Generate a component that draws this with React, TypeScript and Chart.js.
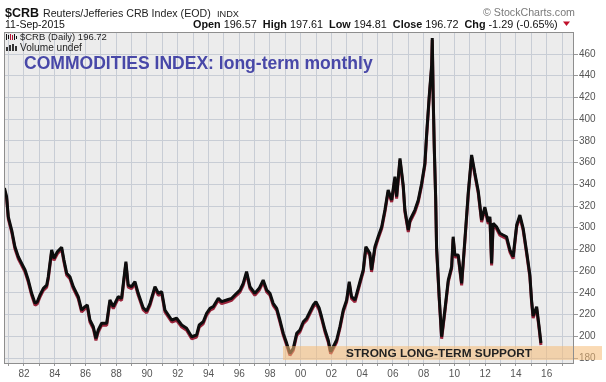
import React, { useEffect, useRef } from 'react';
import { Chart, registerables } from 'chart.js';

Chart.register(...registerables);

// ---- data ----
const YEARS = [
  1980.73, 1980.87, 1980.98, 1981.2, 1981.41, 1981.63, 1981.85, 1982.07, 1982.28, 1982.5,
  1982.72, 1982.87, 1983.04, 1983.26, 1983.48, 1983.58, 1983.8, 1983.95, 1984.17, 1984.45,
  1984.6, 1984.78, 1984.99, 1985.21, 1985.53, 1985.75, 1985.97, 1986.12, 1986.29, 1986.51,
  1986.68, 1986.83, 1987.05, 1987.38, 1987.59, 1987.81, 1988.13, 1988.35, 1988.63, 1988.78,
  1989.0, 1989.22, 1989.43, 1989.76, 1989.98, 1990.2, 1990.52, 1990.74, 1990.96, 1991.17,
  1991.39, 1991.61, 1991.93, 1992.26, 1992.58, 1992.91, 1993.23, 1993.4, 1993.66, 1993.88,
  1994.1, 1994.31, 1994.64, 1994.86, 1995.18, 1995.51, 1995.83, 1996.05, 1996.26, 1996.48,
  1996.7, 1997.02, 1997.3, 1997.56, 1997.79, 1998.0, 1998.21, 1998.44, 1998.65, 1998.87,
  1999.09, 1999.3, 1999.52, 1999.74, 1999.95, 2000.17, 2000.39, 2000.6, 2000.82, 2000.99,
  2001.21, 2001.36, 2001.58, 2001.79, 2001.95, 2002.12, 2002.34, 2002.55, 2002.77, 2002.99,
  2003.16, 2003.31, 2003.53, 2003.85, 2004.07, 2004.24, 2004.5, 2004.61, 2004.83, 2005.04,
  2005.27, 2005.48, 2005.69, 2005.92, 2006.13, 2006.24, 2006.46, 2006.67, 2006.78, 2007.0,
  2007.11, 2007.43, 2007.65, 2007.87, 2008.08, 2008.19, 2008.36, 2008.52, 2008.56, 2008.62,
  2008.69, 2008.78, 2008.84, 2009.01, 2009.17, 2009.38, 2009.6, 2009.82, 2009.92, 2010.03,
  2010.25, 2010.47, 2010.68, 2010.9, 2011.12, 2011.33, 2011.55, 2011.77, 2011.98, 2012.2,
  2012.31, 2012.42, 2012.52, 2012.74, 2012.96, 2013.17, 2013.39, 2013.61, 2013.82, 2014.05,
  2014.26, 2014.47, 2014.7, 2014.91, 2015.02, 2015.12, 2015.35, 2015.51, 2015.63,
];
const CRB_VALUES = [
  336.6, 328.6, 310.1, 297.9, 282.5, 273.3, 267.2, 261.1, 251.8, 239.6,
  230.4, 231.9, 238.0, 244.2, 247.2, 254.9, 279.5, 271.8, 277.9, 282.0,
  270.3, 258.0, 254.9, 245.7, 236.5, 224.2, 227.3, 228.8, 215.0, 208.8,
  198.1, 205.8, 212.0, 212.0, 233.4, 227.3, 236.5, 235.0, 268.7, 247.2,
  245.7, 250.3, 239.6, 226.1, 223.3, 230.4, 245.7, 239.6, 241.1, 224.2,
  219.6, 215.0, 216.6, 210.4, 207.4, 199.6, 201.2, 210.4, 213.4, 221.2,
  225.8, 227.3, 235.0, 231.9, 233.4, 235.0, 239.6, 242.6, 248.8, 259.5,
  245.7, 239.6, 244.2, 251.8, 242.6, 239.6, 230.4, 225.8, 215.0, 202.7,
  193.5, 184.3, 188.9, 202.7, 205.8, 213.4, 216.6, 222.6, 228.8, 231.9,
  225.8, 218.0, 205.8, 196.6, 185.8, 190.4, 196.6, 208.8, 224.2, 233.4,
  250.3, 236.5, 233.4, 250.0, 261.1, 282.5, 276.4, 261.1, 282.5, 291.7,
  300.9, 316.3, 334.7, 325.5, 347.0, 328.6, 363.9, 339.3, 316.3, 297.9,
  307.1, 316.3, 325.5, 340.9, 359.3, 385.4, 420.7, 449.9, 474.7, 420.7,
  374.6, 328.6, 282.5, 236.5, 199.6, 224.2, 251.8, 264.1, 291.7, 274.9,
  274.9, 248.8, 288.7, 332.0, 367.0, 350.4, 333.8, 307.1, 319.1, 305.3,
  310.1, 267.2, 304.1, 300.9, 294.9, 293.3, 291.7, 279.5, 273.3, 302.5,
  311.7, 299.7, 277.6, 256.4, 233.4, 218.7, 227.3, 208.8, 193.8,
];

const X_TICK_YEARS = [
  1981, 1982, 1983, 1984, 1985, 1986, 1987, 1988, 1989, 1990, 1991, 1992, 1993,
  1994, 1995, 1996, 1997, 1998, 1999, 2000, 2001, 2002, 2003, 2004, 2005, 2006,
  2007, 2008, 2009, 2010, 2011, 2012, 2013, 2014, 2015, 2016, 2017,
];
const Y_TICKS = [180, 200, 220, 240, 260, 280, 300, 320, 340, 360, 380, 400, 420, 440, 460];
const X_MIN = 1980.7;
const X_MAX = 2017.78;
const Y_MIN = 175.4;
const Y_MAX = 480.3;

const SUPPORT_RANGE = [178.2, 191.0]; // value band of the support zone
const SUPPORT_START_YEAR = 1998.85;

const SYMBOL = '$CRB';
const INDEX_NAME = 'Reuters/Jefferies CRB Index (EOD)';
const EXCHANGE = 'INDX';
const DATE_TEXT = '11-Sep-2015';
const OHLC_LABELS = ['Open', 'High', 'Low', 'Close', 'Chg'];
const OHLC_VALUES = ['196.57', '197.61', '194.81', '196.72', '-1.29 (-0.65%)'];
const COPYRIGHT = '\u00A9 StockCharts.com';
const LEGEND_LINES = ['$CRB (Daily) 196.72', 'Volume undef'];
const TITLE = 'COMMODITIES INDEX: long-term monthly';
const SUPPORT_LABEL = 'STRONG LONG-TERM SUPPORT';

const FONT = '"Liberation Sans", Arial, Helvetica, sans-serif';

function fitSize(ctx: CanvasRenderingContext2D, text: string, weight: string, target: number) {
  ctx.font = `${weight} 20px ${FONT}`;
  const w = ctx.measureText(text).width;
  return (20 * target) / w;
}

function drawFit(
  ctx: CanvasRenderingContext2D,
  text: string,
  x: number,
  y: number,
  target: number,
  weight: string,
  color: string
) {
  const size = fitSize(ctx, text, weight, target);
  ctx.font = `${weight} ${size}px ${FONT}`;
  ctx.fillStyle = color;
  ctx.textBaseline = 'alphabetic';
  ctx.textAlign = 'left';
  ctx.fillText(text, x, y);
}

const decorPlugin = {
  id: 'decor',
  beforeDraw(chart: any) {
    const { ctx, chartArea: a } = chart;
    ctx.save();
    ctx.fillStyle = '#ffffff';
    ctx.fillRect(0, 0, chart.width, chart.height);
    ctx.fillStyle = '#ececec';
    ctx.fillRect(a.left, a.top, a.right - a.left, a.bottom - a.top);
    ctx.restore();
  },
  beforeDatasetDraw(chart: any) {
    const ctx = chart.ctx;
    ctx.save();
    ctx.shadowColor = 'rgba(150, 25, 50, 0.95)';
    ctx.shadowOffsetX = 0;
    ctx.shadowOffsetY = 2;
    ctx.shadowBlur = 0;
  },
  afterDatasetDraw(chart: any) {
    chart.ctx.restore();
  },
  afterDatasetsDraw(chart: any) {
    const { ctx, scales } = chart;
    const xs = scales.x;
    const ys = scales.y;
    // support band (drawn over the data, semi-transparent)
    const x0 = xs.getPixelForValue(SUPPORT_START_YEAR);
    const yTop = ys.getPixelForValue(SUPPORT_RANGE[1]);
    const yBot = ys.getPixelForValue(SUPPORT_RANGE[0]);
    ctx.save();
    ctx.fillStyle = 'rgba(245, 188, 118, 0.55)';
    ctx.fillRect(x0, yTop, 602 - x0, yBot - yTop);
    ctx.restore();
  },
  afterDraw(chart: any) {
    const { ctx, chartArea: a } = chart;
    ctx.save();
    // plot frame
    ctx.strokeStyle = '#8e8e8e';
    ctx.lineWidth = 1;
    ctx.strokeRect(a.left + 0.5, a.top + 0.5, a.right - a.left - 1, a.bottom - a.top);

    // header line 1
    drawFit(ctx, SYMBOL, 5, 17, 34, 'bold', '#111');
    drawFit(ctx, INDEX_NAME, 43, 17, 168, 'normal', '#222');
    drawFit(ctx, EXCHANGE, 217, 17, 22, 'normal', '#222');
    drawFit(ctx, COPYRIGHT, 483, 16, 92, 'normal', '#7a7a7a');

    // header line 2
    drawFit(ctx, DATE_TEXT, 5, 28, 60, 'normal', '#111');
    const segs: [string, string][] = [];
    OHLC_LABELS.forEach((l, i) => {
      segs.push([l, 'bold']);
      segs.push([' ' + OHLC_VALUES[i] + (i < OHLC_LABELS.length - 1 ? '  ' : ''), 'normal']);
    });
    const base = 11;
    let total = 0;
    segs.forEach(([t, w]) => {
      ctx.font = `${w} ${base}px ${FONT}`;
      total += ctx.measureText(t).width;
    });
    const size = (base * 365) / total;
    let cx = 193;
    segs.forEach(([t, w]) => {
      ctx.font = `${w} ${size}px ${FONT}`;
      ctx.fillStyle = '#111';
      ctx.fillText(t, cx, 28);
      cx += ctx.measureText(t).width;
    });
    ctx.fillStyle = '#c0102a';
    ctx.beginPath();
    ctx.moveTo(563, 21.5);
    ctx.lineTo(570, 21.5);
    ctx.lineTo(566.5, 26);
    ctx.closePath();
    ctx.fill();

    // legend icons inside the plot
    ctx.fillStyle = '#111';
    ctx.fillRect(6, 34, 1, 6);
    ctx.fillRect(8, 35, 1, 4);
    ctx.fillStyle = '#b01030';
    ctx.fillRect(10, 34, 1, 6);
    ctx.fillRect(12, 35, 1, 5);
    ctx.fillStyle = '#111';
    ctx.fillRect(14, 34, 1, 6);
    ctx.fillRect(16, 36, 1, 3);
    ctx.fillStyle = '#333';
    ctx.fillRect(6, 47, 2, 4);
    ctx.fillRect(9, 45, 2, 6);
    ctx.fillRect(12, 44, 2, 7);
    ctx.fillRect(15, 46, 2, 5);
    drawFit(ctx, LEGEND_LINES[0], 20, 40, 87, 'normal', '#222');
    drawFit(ctx, LEGEND_LINES[1], 20, 51, 62, 'normal', '#222');

    // title
    drawFit(ctx, TITLE, 24, 69, 349, 'bold', '#4848a8');

    // support label
    drawFit(ctx, SUPPORT_LABEL, 346, 357, 186, 'bold', '#222');
    ctx.restore();
  },
};

export default function App() {
  const ref = useRef<HTMLCanvasElement | null>(null);

  useEffect(() => {
    if (!ref.current) return;
    const points = YEARS.map((x, i) => ({ x, y: CRB_VALUES[i] }));
    const chart = new Chart(ref.current, {
      type: 'line',
      data: {
        datasets: [
          {
            label: SYMBOL,
            data: points,
            borderColor: '#0d0d0d',
            borderWidth: 3,
            pointRadius: 0,
            tension: 0,
            borderJoinStyle: 'bevel',
            fill: false,
          },
        ],
      },
      options: {
        animation: false,
        responsive: false,
        devicePixelRatio: 1,
        layout: { padding: { left: 4, top: 32, right: 0, bottom: 0 } },
        plugins: {
          legend: { display: false },
          title: { display: false },
          tooltip: { enabled: false },
        },
        scales: {
          x: {
            type: 'linear',
            position: 'bottom',
            min: X_MIN,
            max: X_MAX,
            afterBuildTicks: (s: any) => {
              s.ticks = X_TICK_YEARS.map((v) => ({ value: v }));
            },
            afterFit: (s: any) => {
              s.height = 19;
            },
            ticks: {
              autoSkip: false,
              maxRotation: 0,
              padding: 2,
              color: '#555',
              font: { family: FONT, size: 10 },
              callback: (v: any) =>
                Number(v) % 2 === 0 ? String(Number(v) % 100).padStart(2, '0') : '',
            },
            grid: { color: '#c8cdd5', lineWidth: 1, tickLength: 3, tickColor: '#999' },
            border: { display: false },
          },
          y: {
            type: 'linear',
            position: 'right',
            min: Y_MIN,
            max: Y_MAX,
            afterBuildTicks: (s: any) => {
              s.ticks = Y_TICKS.map((v) => ({ value: v }));
            },
            afterFit: (s: any) => {
              s.width = 32;
            },
            ticks: {
              padding: 1,
              color: '#555',
              font: { family: FONT, size: 10 },
              callback: (v: any) => String(v),
            },
            grid: { color: '#c8cdd5', lineWidth: 1, tickLength: 4, tickColor: '#999' },
            border: { display: false },
          },
        },
      },
      plugins: [decorPlugin],
    } as any);
    return () => chart.destroy();
  }, []);

  return (
    <div style={{ position: 'fixed', left: 0, top: 0, width: 606, height: 382, background: '#fff' }}>
      <canvas ref={ref} width={606} height={382} style={{ display: 'block' }} />
    </div>
  );
}
